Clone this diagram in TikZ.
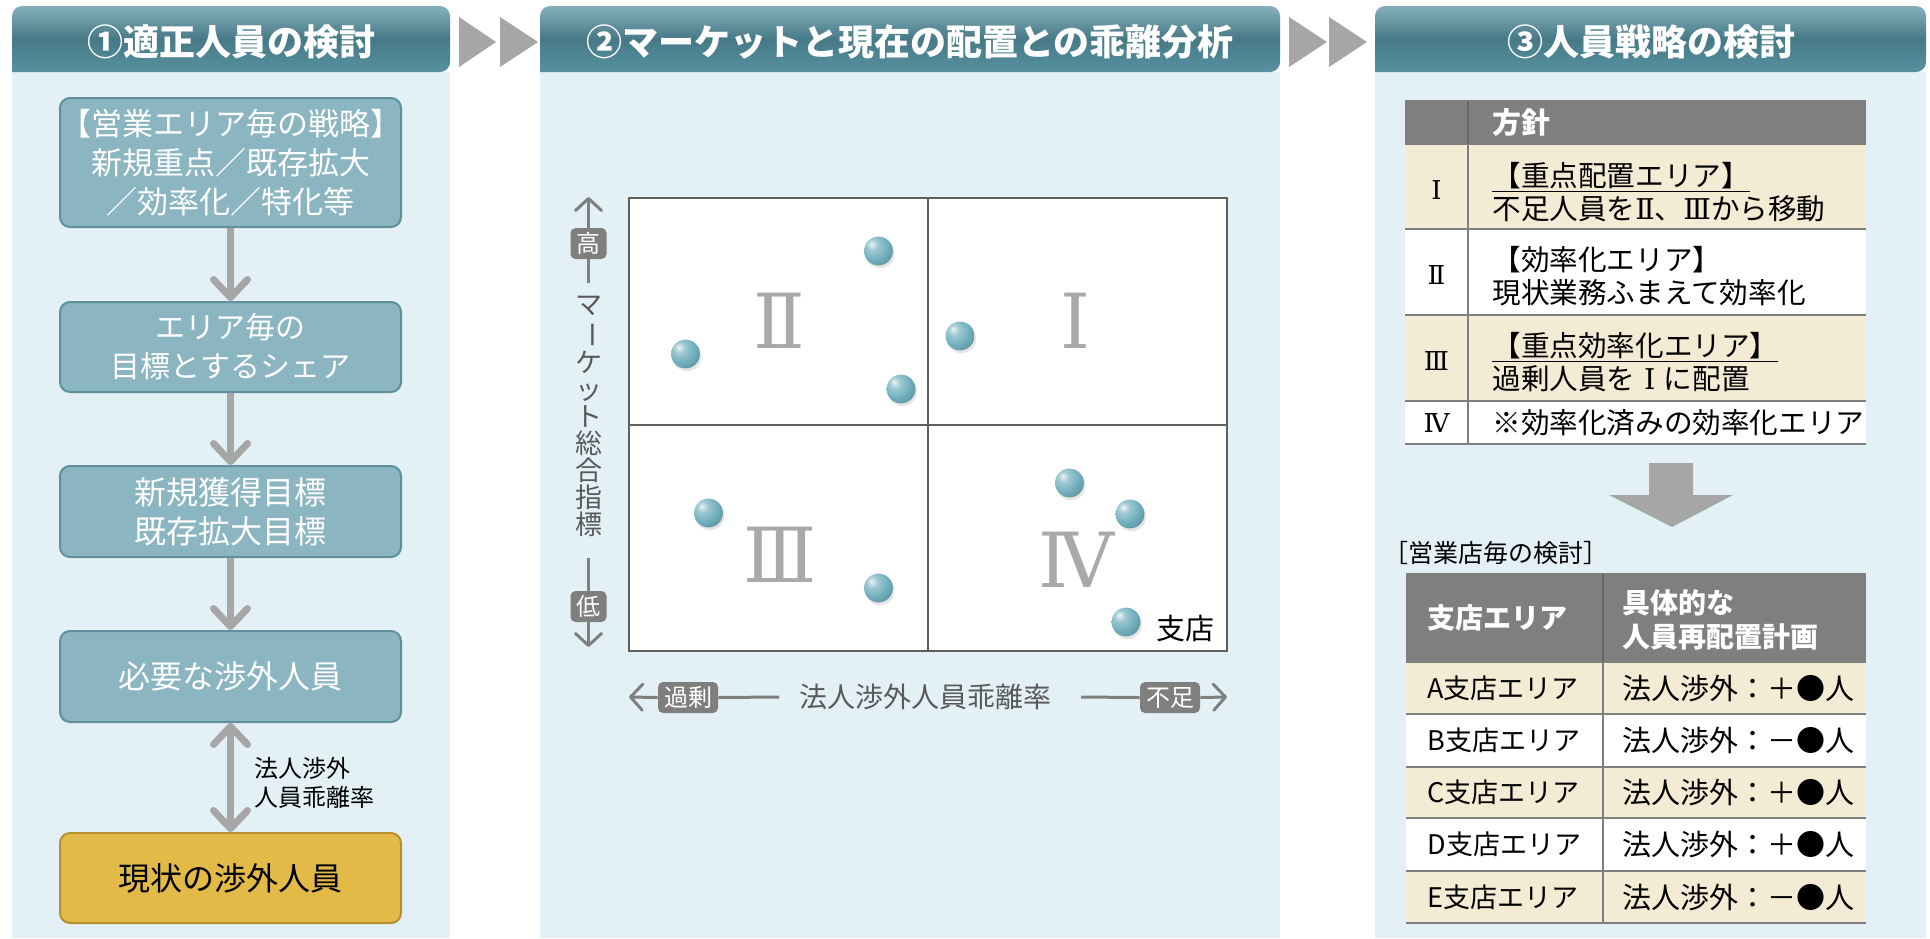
\documentclass[tikz,border=0pt]{standalone}
\usepackage{fontspec}
\setmainfont{Noto Sans CJK JP}
\newfontfamily\romfont{DejaVu Serif}
\usetikzlibrary{arrows.meta}
\definecolor{bodycol}{HTML}{E3F1F6}
\definecolor{hdtop}{HTML}{86B0BB}
\definecolor{hdmid}{HTML}{467986}
\definecolor{hdbot}{HTML}{5791A0}
\definecolor{boxfill}{HTML}{8BB5C1}
\definecolor{boxline}{HTML}{5E909D}
\definecolor{goldfill}{HTML}{E2BA48}
\definecolor{goldline}{HTML}{B4902E}
\definecolor{arrgray}{HTML}{A6A6A6}
\definecolor{axgray}{HTML}{7F7F7F}
\definecolor{labgray}{HTML}{595959}
\definecolor{chartline}{HTML}{5F5F5F}
\definecolor{romgray}{HTML}{A9A9A9}
\definecolor{tgray}{HTML}{7F7F7F}
\definecolor{beige}{HTML}{F4EBD4}
\definecolor{sph}{HTML}{72B0BE}
\pgfdeclareradialshading{sphereshade}{\pgfqpoint{-12bp}{12bp}}{%
  color(0bp)=(sph!15!white); color(10bp)=(sph!70!white); color(24bp)=(sph);
  color(40bp)=(sph!80!black); color(58bp)=(sph!55!black); color(100bp)=(sph!55!black)}
\begin{document}
\begin{tikzpicture}[x=0.5pt,y=-0.5pt,
  hdrtext/.style={text=white,font=\fontsize{18pt}{20pt}\selectfont\bfseries,inner sep=0},
  flowbox/.style={draw=boxline,fill=boxfill,line width=1pt,rounded corners=5pt,minimum width=170.5pt,text=white,align=center,inner sep=0},
  goldbox/.style={flowbox,draw=goldline,fill=goldfill,text=black},
  flowarr/.style={draw=arrgray,line width=3.5pt,-{Straight Barb[length=9pt,width=17pt,round]}},
  dblarr/.style={draw=arrgray,line width=3.5pt,{Straight Barb[length=9pt,width=17pt,round]}-{Straight Barb[length=9pt,width=17pt,round]}},
  chev/.style={fill=arrgray},
  axbox/.style={fill=axgray,text=white,rounded corners=2.5pt,font=\fontsize{12pt}{12pt}\selectfont,inner xsep=3pt,inner ysep=2pt,minimum height=15.5pt},
  axlabel/.style={text=labgray,inner sep=0},
  axarrow/.style={draw=axgray,line width=1.5pt,-{Straight Barb[length=6pt,width=13pt,round]}},
  axline/.style={draw=axgray,line width=1.5pt},
  chartln/.style={draw=chartline,line width=1pt},
  roman/.style={text=romgray,font=\romfont\fontsize{38pt}{38pt}\selectfont,inner sep=0},
  tline/.style={draw=tgray,line width=1pt},
  ttext/.style={anchor=west,align=left,inner sep=0,font=\fontsize{14.3pt}{16.5pt}\selectfont},
  t2text/.style={anchor=west,align=left,inner sep=0,font=\fontsize{13.5pt}{17pt}\selectfont},
  t2wide/.style={anchor=west,align=left,inner sep=0,font=\fontsize{14.5pt}{17pt}\selectfont},
  tnum/.style={inner sep=0,font=\romfont\fontsize{13pt}{13pt}\selectfont}
]
\useasboundingbox (0,0) rectangle (1930,938);
\fill[white] (0,0) rectangle (1930,938);

% ---------- panel backgrounds ----------
\fill[bodycol] (12,72) rectangle (450,938);
\fill[bodycol] (540,72) rectangle (1280,938);
\fill[bodycol] (1375,72) rectangle (1926,938);
\shade[top color=hdtop,bottom color=hdbot,middle color=hdmid] (12,72) [rounded corners=5pt] -- (12,6) -- (450,6) -- (450,72) [sharp corners] -- cycle;
\shade[top color=hdtop,bottom color=hdbot,middle color=hdmid] (540,72) [rounded corners=5pt] -- (540,6) -- (1280,6) -- (1280,72) [sharp corners] -- cycle;
\shade[top color=hdtop,bottom color=hdbot,middle color=hdmid] (1375,72) [rounded corners=5pt] -- (1375,6) -- (1926,6) -- (1926,72) [sharp corners] -- cycle;
\node[hdrtext] (h1) at (231,42) {①適正人員の検討};
\node[hdrtext] (h2) at (910,42) {②マーケットと現在の配置との乖離分析};
\node[hdrtext] (h3) at (1651,42) {③人員戦略の検討};

% ---------- chevrons ----------
\fill[chev] (459,17) -- (496,42) -- (459,67) -- cycle;
\fill[chev] (500,17) -- (538,42) -- (500,67) -- cycle;
\fill[chev] (1289,17) -- (1327,42) -- (1289,67) -- cycle;
\fill[chev] (1329,17) -- (1367,42) -- (1329,67) -- cycle;

% ---------- panel 1 ----------
\node[flowbox,minimum height=64.5pt,text width=170.5pt,font=\fontsize{15.5pt}{19.5pt}\selectfont] (b1) at (230.5,162.5) {【営業エリア毎の戦略】\\新規重点／既存拡大\\／効率化／特化等};
\node[flowbox,minimum height=45pt,font=\fontsize{15pt}{19.5pt}\selectfont] (b2) at (230.5,347) {エリア毎の\\目標とするシェア};
\node[flowbox,minimum height=45.5pt,font=\fontsize{16pt}{19.5pt}\selectfont] (b3) at (230.5,511.5) {新規獲得目標\\既存拡大目標};
\node[flowbox,minimum height=45.5pt,font=\fontsize{16pt}{19.5pt}\selectfont] (b4) at (230.5,676.5) {必要な渉外人員};
\node[goldbox,minimum height=45pt,font=\fontsize{16pt}{19.5pt}\selectfont] (b5) at (230.5,878) {現状の渉外人員};
\draw[flowarr] (b1.south) -- (b2.north);
\draw[flowarr] (b2.south) -- (b3.north);
\draw[flowarr] (b3.south) -- (b4.north);
\draw[dblarr] (b4.south) -- (b5.north);
\node[anchor=west,align=left,inner sep=0,font=\fontsize{12pt}{14.5pt}\selectfont] (gap) at (254,783) {法人渉外\\人員乖離率};

% ---------- panel 2 : chart ----------
\draw[chartln,fill=white] (629,198) rectangle (1227,651);
\draw[chartln] (928,198) -- (928,651);
\draw[chartln] (629,425) -- (1227,425);
\node[roman] (q2) at (779,321) {Ⅱ};
\node[roman] (q1) at (1075,321) {Ⅰ};
\node[roman] (q3) at (780,555) {Ⅲ};
\node[roman] (q4) at (1076,560) {Ⅳ};
\foreach \px/\py in {878.5/251, 685.5/354, 901/389, 960/336, 708.5/513, 878.5/588, 1069.5/483, 1130/514, 1126/622}{
  \fill[black,opacity=0.10] (\px+1.5,\py+2.5) circle[radius=7.3pt];
  \shade[shading=sphereshade] (\px,\py) circle[radius=7.2pt];
}
\node[inner sep=0,font=\fontsize{14.5pt}{14.5pt}\selectfont] (branch) at (1185,629) {支店};

% y axis
\node[axbox] (yhi) at (588.5,243.5) {高};
\node[axbox] (ylo) at (588.5,606.5) {低};
\node[axlabel,align=center,font=\fontsize{13.5pt}{13.5pt}\selectfont] (ylab) at (588.5,416) {マ\\\rotatebox[origin=c]{-90}{ー}\\ケ\\ッ\\ト\\総\\合\\指\\標};
\coordinate (ytop) at (588.5,197);
\coordinate (ybot) at (588.5,647);
\coordinate (yl1) at (588.5,283);
\coordinate (yl2) at (588.5,558);
\draw[axarrow] (yhi.north) -- (ytop);
\draw[axarrow] (ylo.south) -- (ybot);
\draw[axline] (yhi.south) -- (yl1);
\draw[axline] (yl2) -- (ylo.north);

% x axis
\node[axbox] (xov) at (688,697.5) {過剰};
\node[axbox] (xsh) at (1170,697.5) {不足};
\node[axlabel,font=\fontsize{14pt}{14pt}\selectfont] (xlab) at (925.5,697) {法人渉外人員乖離率};
\coordinate (xl) at (629,697);
\coordinate (xr) at (1227,697);
\coordinate (xa) at (779,697);
\coordinate (xb) at (1081,697);
\draw[axarrow] (xov.west) -- (xl);
\draw[axarrow] (xsh.east) -- (xr);
\draw[axline] (xov.east) -- (xa);
\draw[axline] (xb) -- (xsh.west);

% ---------- panel 3 : table 1 ----------
\fill[tgray] (1405,101) rectangle (1866,144);
\fill[beige] (1405,144) rectangle (1866,229);
\fill[white] (1405,229) rectangle (1866,315);
\fill[beige] (1405,315) rectangle (1866,401);
\fill[white] (1405,401) rectangle (1866,444);
\draw[tline] (1405,101) -- (1866,101);
\foreach \yy in {144,229,315,401,444}{\draw[tline] (1405,\yy) -- (1866,\yy);}
\draw[draw=tgray!80!black,line width=1.2pt] (1468,101) -- (1468,144);
\draw[tline,line width=1.2pt] (1468,144) -- (1468,444);
\node[ttext,text=white,font=\fontsize{14.5pt}{14.5pt}\selectfont\bfseries] (th) at (1492,123) {方針};
\node[tnum] (r1) at (1436.5,190) {Ⅰ};
\node[tnum] (r2) at (1436.5,275) {Ⅱ};
\node[tnum] (r3) at (1436.5,361) {Ⅲ};
\node[tnum] (r4) at (1436.5,423) {Ⅳ};
\node[ttext] (p1) at (1492,192) {\underline{【重点配置エリア】}\\不足人員を{\romfont Ⅱ}、{\romfont Ⅲ}から移動};
\node[ttext] (p2) at (1492,276) {【効率化エリア】\\現状業務ふまえて効率化};
\node[ttext] (p3) at (1492,362) {\underline{【重点効率化エリア】}\\過剰人員を\hspace{0.3em}{\romfont Ⅰ}\hspace{0.3em}に配置};
\node[ttext] (p4) at (1492,423) {※効率化済みの効率化エリア};

% big arrow
\fill[arrgray] (1649,463) -- (1693,463) -- (1693,495) -- (1733,495) -- (1672,527) -- (1609,495) -- (1649,495) -- cycle;

% ---------- panel 3 : table 2 ----------
\node[anchor=west,inner sep=0,font=\fontsize{12.5pt}{12.5pt}\selectfont] (sub) at (1383,553) {［営業店毎の検討］};
\fill[tgray] (1406,574) rectangle (1866,662);
\fill[beige] (1406,662) rectangle (1866,714);
\fill[white] (1406,714) rectangle (1866,767);
\fill[beige] (1406,767) rectangle (1866,818);
\fill[white] (1406,818) rectangle (1866,871);
\fill[beige] (1406,871) rectangle (1866,923);
\draw[tline] (1406,574) -- (1866,574);
\foreach \yy in {662,714,767,818,871,923}{\draw[tline] (1406,\yy) -- (1866,\yy);}
\draw[draw=tgray!80!black,line width=1.2pt] (1603,574) -- (1603,662);
\draw[tline,line width=1.2pt] (1603,662) -- (1603,923);
\node[t2text,text=white,font=\fontsize{14pt}{17pt}\selectfont\bfseries] (c1h) at (1427,618) {支店エリア};
\node[t2text,text=white,font=\fontsize{14pt}{17pt}\selectfont\bfseries] (c2h) at (1622,620) {具体的な\\人員再配置計画};
\node[t2text] (a1) at (1427,688) {A支店エリア};
\node[t2wide] (a2) at (1622,688) {法人渉外：＋●人};
\node[t2text] (bb1) at (1427,740.5) {B支店エリア};
\node[t2wide] (bb2) at (1622,740.5) {法人渉外：－●人};
\node[t2text] (c1) at (1427,792.5) {C支店エリア};
\node[t2wide] (c2) at (1622,792.5) {法人渉外：＋●人};
\node[t2text] (d1) at (1427,844.5) {D支店エリア};
\node[t2wide] (d2) at (1622,844.5) {法人渉外：＋●人};
\node[t2text] (e1) at (1427,897) {E支店エリア};
\node[t2wide] (e2) at (1622,897) {法人渉外：－●人};
\end{tikzpicture}
\end{document}
